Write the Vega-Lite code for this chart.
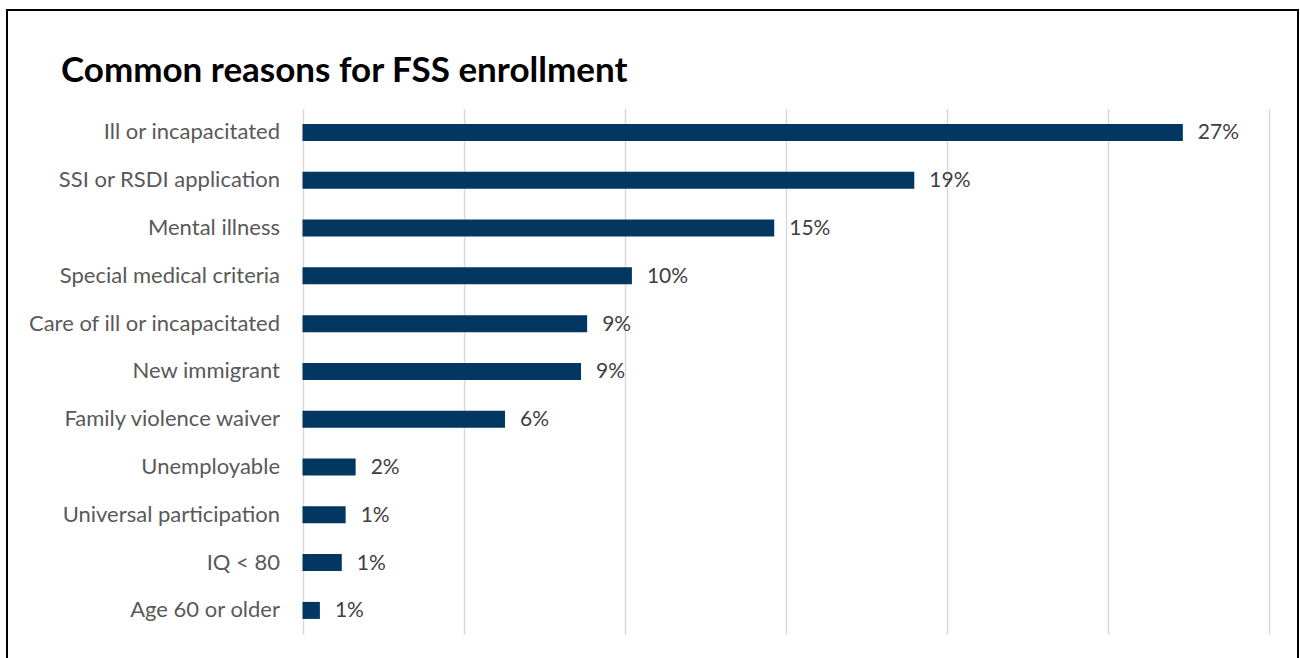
{
  "$schema": "https://vega.github.io/schema/vega-lite/v6.json",
  "autosize": {"type": "none"},
  "width": 1291,
  "height": 648,
  "padding": {"left": 7, "top": 10, "right": 2, "bottom": 0},
  "background": "#ffffff",
  "config": {
    "view": {"stroke": "#000000", "strokeWidth": 2, "strokeDash": [1939, 1291, 700]},
    "font": "Lato"
  },
  "title": {
    "text": "Common reasons for FSS enrollment",
    "anchor": "start",
    "frame": "group",
    "orient": "top",
    "offset": -107,
    "dx": 54,
    "baseline": "alphabetic",
    "font": "Lato",
    "fontSize": 35,
    "fontWeight": "bold",
    "color": "#000000"
  },
  "data": {
    "values": [
      {"reason": "Ill or incapacitated", "share": 0.2734},
      {"reason": "SSI or RSDI application", "share": 0.19},
      {"reason": "Mental illness", "share": 0.1465},
      {"reason": "Special medical criteria", "share": 0.1023},
      {"reason": "Care of ill or incapacitated", "share": 0.0884},
      {"reason": "New immigrant", "share": 0.0865},
      {"reason": "Family violence waiver", "share": 0.0629},
      {"reason": "Unemployable", "share": 0.0165},
      {"reason": "Universal participation", "share": 0.0134},
      {"reason": "IQ < 80", "share": 0.0122},
      {"reason": "Age 60 or older", "share": 0.0054}
    ]
  },
  "encoding": {
    "y": {
      "field": "reason",
      "type": "nominal",
      "sort": null,
      "scale": {"range": [98.6, 624.3], "paddingInner": 0.644, "paddingOuter": 0.322},
      "axis": {
        "title": null,
        "orient": "left",
        "offset": -295.5,
        "domain": false,
        "ticks": false,
        "tickSize": 0,
        "labelPadding": 23,
        "labelLimit": 400,
        "labelFont": "Lato",
        "labelFontSize": 22,
        "labelColor": "#595959",
        "grid": false
      }
    },
    "x": {
      "field": "share",
      "type": "quantitative",
      "scale": {"domain": [0, 0.3], "range": [295.5, 1261.5], "nice": false, "zero": true},
      "axis": {
        "title": null,
        "orient": "top",
        "labels": false,
        "ticks": false,
        "domain": false,
        "grid": true,
        "gridColor": "#d9d9d9",
        "gridWidth": 1.5,
        "values": [0, 0.05, 0.1, 0.15, 0.2, 0.25, 0.3]
      }
    }
  },
  "layer": [
    {"mark": {"type": "bar", "color": "#023762"}},
    {
      "mark": {"type": "text", "align": "left", "baseline": "middle", "dx": 15, "dy": 1, "font": "Lato", "fontSize": 21, "color": "#404040"},
      "encoding": {"text": {"field": "share", "type": "quantitative", "format": ".0%"}}
    }
  ]
}
